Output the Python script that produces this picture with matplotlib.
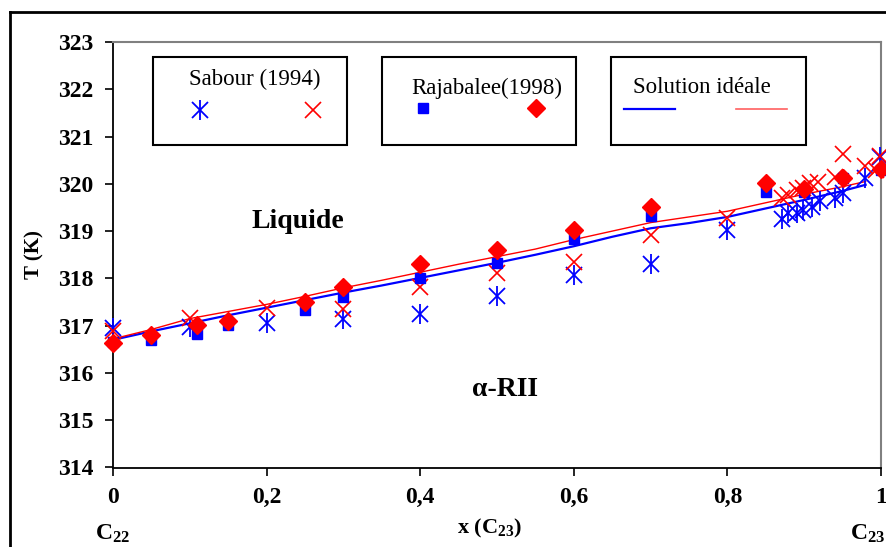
import matplotlib
matplotlib.use("Agg")
import matplotlib.pyplot as plt
from matplotlib.patches import Rectangle
from matplotlib.lines import Line2D

plt.rcParams['font.family'] = ['Liberation Serif', 'DejaVu Serif']
plt.rcParams['mathtext.fontset'] = 'custom'
plt.rcParams['mathtext.rm'] = 'Liberation Serif:bold'
plt.rcParams['mathtext.bf'] = 'Liberation Serif:bold'

# ---- data ----
ideal_x = [0, 0.05, 0.1, 0.15, 0.2, 0.25, 0.3, 0.35, 0.4, 0.45, 0.5, 0.55,
           0.6, 0.65, 0.7, 0.75, 0.8, 0.85, 0.9, 0.95, 0.98]
ideal_blue = [316.70, 316.88, 317.05, 317.22, 317.38, 317.54, 317.70, 317.85,
              318.01, 318.17, 318.33, 318.50, 318.68, 318.88, 319.06, 319.17,
              319.30, 319.48, 319.66, 319.85, 319.98]
ideal_red = [316.72, 316.92, 317.15, 317.30, 317.45, 317.62, 317.80, 317.96,
             318.13, 318.30, 318.46, 318.62, 318.82, 319.00, 319.18, 319.30,
             319.42, 319.60, 319.78, 319.94, 320.05]

sabour_x = [0, 0.1, 0.2, 0.3, 0.4, 0.5, 0.6, 0.7, 0.8, 0.871, 0.879, 0.890,
            0.899, 0.910, 0.921, 0.940, 0.951, 0.979, 0.999]
sabour_blue = [316.95, 316.98, 317.06, 317.14, 317.25, 317.63, 318.08, 318.31,
               319.03, 319.25, 319.38, 319.39, 319.45, 319.51, 319.63, 319.70,
               319.81, 320.13, 320.57]
sabour_xr = [0, 0.1, 0.2, 0.3, 0.4, 0.5, 0.6, 0.7, 0.8, 0.871, 0.879, 0.890,
             0.899, 0.907, 0.918, 0.940, 0.951, 0.979, 0.993, 0.999]
sabour_red = [316.88, 317.17, 317.38, 317.35, 317.82, 318.12, 318.35, 318.92,
              319.28, 319.70, 319.77, 319.87, 319.91, 320.01, 320.03, 320.15,
              320.63, 320.37, 320.30, 320.58]

raja_x = [0, 0.05, 0.11, 0.15, 0.25, 0.3, 0.4, 0.5, 0.6, 0.7, 0.85, 0.9, 0.95, 1.0]
raja_blue = [316.66, 316.70, 316.83, 317.02, 317.34, 317.61, 318.01, 318.33,
             318.83, 319.32, 319.83, 319.83, 320.13, 320.30]
raja_red = [316.63, 316.80, 317.02, 317.10, 317.51, 317.82, 318.31, 318.60,
            319.03, 319.51, 320.02, 319.89, 320.12, 320.32]

xticks = [0, 0.2, 0.4, 0.6, 0.8, 1.0]
xtick_labels = ['0', '0,2', '0,4', '0,6', '0,8', '1']
yticks = [314, 315, 316, 317, 318, 319, 320, 321, 322, 323]

# ---- figure ----
fig = plt.figure(figsize=(8.87, 5.47), dpi=100)
ax = fig.add_axes([113/887, 1-467.5/547, 768/887, 425.5/547])

ax.plot(ideal_x, ideal_blue, color='#0000FF', lw=1.6, zorder=2)
ax.plot(ideal_x, ideal_red, color='#FF0000', lw=1.0, zorder=2)

ax.plot(sabour_x, sabour_blue, ls='none', marker='x', ms=11, mew=1.3,
        color='#0000FF', zorder=3, clip_on=False)
ax.plot(sabour_x, sabour_blue, ls='none', marker='|', ms=14, mew=1.3,
        color='#0000FF', zorder=3, clip_on=False)
ax.plot(sabour_xr, sabour_red, ls='none', marker='x', ms=11, mew=1.2,
        color='#FF0000', zorder=3, clip_on=False)

ax.plot(raja_x, raja_blue, ls='none', marker='s', ms=7.5, color='#0000FF',
        mec='#0000FF', zorder=4, clip_on=False)
ax.plot(raja_x, raja_red, ls='none', marker='D', ms=9, color='#FF0000',
        mec='#FF0000', zorder=5, clip_on=False)

ax.set_xlim(0, 1)
ax.set_ylim(314, 323)
ax.set_xticks(xticks)
ax.set_xticklabels(xtick_labels)
ax.set_yticks(yticks)
ax.tick_params(axis='both', direction='out', length=6, width=1.2, pad=8,
               labelsize=17, colors='black')
for lab in ax.get_xticklabels() + ax.get_yticklabels():
    lab.set_fontweight('bold')

for s in ['left', 'bottom']:
    ax.spines[s].set_color('black')
    ax.spines[s].set_linewidth(1.3)
for s in ['top', 'right']:
    ax.spines[s].set_color('#808080')
    ax.spines[s].set_linewidth(1.5)

ax.set_ylabel('T (K)', fontsize=15, fontweight='bold', labelpad=10)

# annotations
ax.text(0.241, 0.577, 'Liquide', transform=ax.transAxes, fontsize=20,
        fontweight='bold', ha='center', va='center')
ax.text(0.51, 0.184, 'α-RII', transform=ax.transAxes, fontsize=20,
        fontweight='bold', ha='center', va='center')

# bottom labels
ax.text(0.0, -0.155, r'$\mathbf{C_{22}}$', transform=ax.transAxes, fontsize=17,
        ha='center', va='center')
ax.text(0.49, -0.143, r'x (C$\mathbf{_{23}}$)', transform=ax.transAxes, fontsize=16,
        fontweight='bold', ha='center', va='center')
ax.text(0.982, -0.155, r'$\mathbf{C_{23}}$', transform=ax.transAxes, fontsize=17,
        ha='center', va='center')

# legend boxes
boxes = [(0.052, 0.305), (0.350, 0.603), (0.648, 0.902)]
for x0, x1 in boxes:
    ax.add_patch(Rectangle((x0, 0.758), x1 - x0, 0.207, transform=ax.transAxes,
                           fill=True, facecolor='white', edgecolor='black',
                           lw=1.5, zorder=6))
ax.text(0.185, 0.911, 'Sabour (1994)', transform=ax.transAxes, fontsize=16.5,
        ha='center', va='center', zorder=7)
ax.text(0.487, 0.892, 'Rajabalee(1998)', transform=ax.transAxes, fontsize=16.5,
        ha='center', va='center', zorder=7)
ax.text(0.767, 0.894, 'Solution idéale', transform=ax.transAxes, fontsize=16.5,
        ha='center', va='center', zorder=7)

ax.add_line(Line2D([0.113], [0.840], transform=ax.transAxes, ls='none', marker='x',
                   ms=11, mew=1.3, color='#0000FF', zorder=7))
ax.add_line(Line2D([0.113], [0.840], transform=ax.transAxes, ls='none', marker='|',
                   ms=14, mew=1.3, color='#0000FF', zorder=7))
ax.add_line(Line2D([0.260], [0.840], transform=ax.transAxes, ls='none', marker='x',
                   ms=11, mew=1.2, color='#FF0000', zorder=7))
ax.add_line(Line2D([0.404], [0.845], transform=ax.transAxes, ls='none', marker='s',
                   ms=7.5, color='#0000FF', zorder=7))
ax.add_line(Line2D([0.551], [0.845], transform=ax.transAxes, ls='none', marker='D',
                   ms=9, color='#FF0000', zorder=7))
ax.add_line(Line2D([0.665, 0.732], [0.843, 0.843], transform=ax.transAxes,
                   color='#0000FF', lw=1.6, zorder=7))
ax.add_line(Line2D([0.811, 0.878], [0.843, 0.843], transform=ax.transAxes,
                   color='#FF6060', lw=1.2, zorder=7))

# outer frame
fig.add_artist(Line2D([10/887, 10/887], [0, 1-12/547], transform=fig.transFigure,
                      color='black', lw=2))
fig.add_artist(Line2D([10/887, 1], [1-12/547, 1-12/547], transform=fig.transFigure,
                      color='black', lw=2))

fig.savefig('out.png', dpi=100)
